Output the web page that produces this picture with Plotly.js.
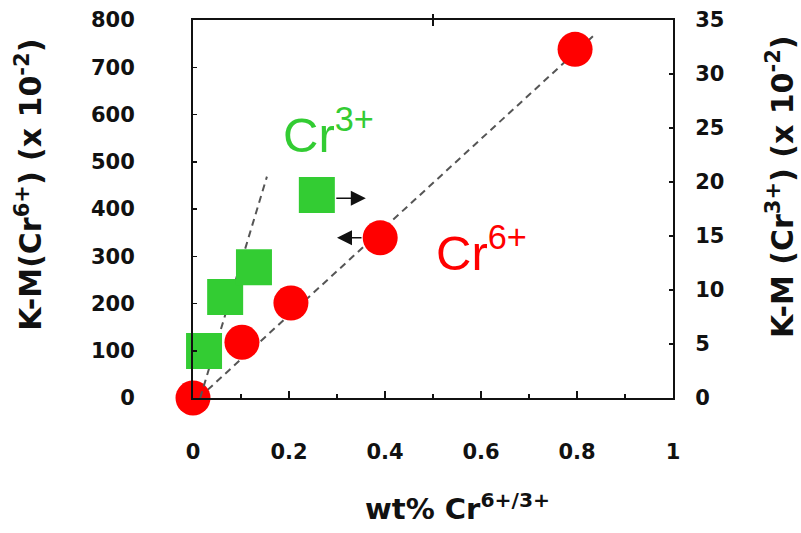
<!DOCTYPE html>
<html>
<head>
<meta charset="utf-8">
<script src="https://cdn.plot.ly/plotly-3.0.1.min.js"></script>
<style>html,body{margin:0;padding:0;background:#fff;}#chart{width:801px;height:533px;}</style>
</head>
<body>
<div id="chart"></div>
<script>
// Cr6+ (left axis, K-M x 10^-2)
var cr6X = [0, 0.102, 0.204, 0.39, 0.796];
var cr6Y = [0, 118, 201, 339, 738];
// Cr3+ (right axis, K-M x 10^-2)
var cr3X = [0.023, 0.067, 0.127, 0.258];
var cr3Y = [4.35, 9.35, 12.1, 18.8];
// dashed guide lines
var fit6X = [0.012, 0.84];
var fit6Y = [0, 772];
var fit3X = [0.015, 0.154];
var fit3Y = [0, 20.5];
var xTicks = [0, 0.2, 0.4, 0.6, 0.8, 1];
var xTickText = ['0', '0.2', '0.4', '0.6', '0.8', '1'];

var red = '#ff0000', green = '#33cc33';
var tickFont = {family: 'DejaVu Sans', size: 21, color: '#111', weight: 'bold'};
var titleFont = {family: 'DejaVu Sans', size: 30, color: '#111', weight: 'bold'};

var traces = [
  {x: fit6X, y: fit6Y, mode: 'lines', yaxis: 'y', line: {color: '#555', width: 2, dash: '7px,5px'}, hoverinfo: 'skip', showlegend: false},
  {x: fit3X, y: fit3Y, mode: 'lines', yaxis: 'y2', line: {color: '#555', width: 2, dash: '7px,5px'}, hoverinfo: 'skip', showlegend: false},
  {x: cr3X, y: cr3Y, mode: 'markers', yaxis: 'y2', name: 'Cr3+', cliponaxis: false,
   marker: {symbol: 'square', size: 36, color: green, line: {width: 0}}, showlegend: false},
  {x: cr6X, y: cr6Y, mode: 'markers', yaxis: 'y', name: 'Cr6+', cliponaxis: false,
   marker: {symbol: 'circle', size: 35, color: red, line: {width: 0}}, showlegend: false}
];

var layout = {
  width: 801, height: 533,
  margin: {l: 193, r: 128, t: 20, b: 135},
  paper_bgcolor: '#fff', plot_bgcolor: '#fff',
  showlegend: false,
  xaxis: {
    range: [0, 1], tickvals: xTicks, ticktext: xTickText,
    showgrid: false, zeroline: false, showline: true, linecolor: '#111', linewidth: 2,
    mirror: true, ticks: 'inside', ticklen: 7, tickwidth: 2, tickcolor: '#111',
    minor: {dtick: 0.1, ticks: 'inside', ticklen: 4, tickwidth: 1.5, tickcolor: '#111'},
    tickfont: tickFont, ticklabelstandoff: 34
  },
  yaxis: {
    range: [0, 800], dtick: 100,
    showgrid: false, zeroline: false, showline: true, linecolor: '#111', linewidth: 2,
    ticks: 'inside', ticklen: 4, tickwidth: 1.5, tickcolor: '#111',
    tickfont: tickFont, ticklabelstandoff: 52
  },
  yaxis2: {
    range: [0, 35], dtick: 5, overlaying: 'y', side: 'right',
    showgrid: false, zeroline: false, showline: true, linecolor: '#111', linewidth: 2,
    ticks: 'inside', ticklen: 4, tickwidth: 1.5, tickcolor: '#111',
    tickfont: tickFont, ticklabelstandoff: 16
  },
  shapes: [
    {type: 'line', xref: 'x', yref: 'paper', ysizemode: 'pixel', yanchor: 1, x0: 0.5, x1: 0.5, y0: -6, y1: 6,
     line: {color: '#111', width: 2}}
  ],
  annotations: [
    {xref: 'paper', yref: 'paper', x: -0.34, y: 0.5635, text: 'K-M(Cr<sup>6+</sup>) (x 10<sup>-2</sup>)',
     textangle: -90, showarrow: false, font: titleFont, xanchor: 'center', yanchor: 'middle'},
    {xref: 'paper', yref: 'paper', x: 1.223, y: 0.558, text: 'K-M (Cr<sup>3+</sup>) (x 10<sup>-2</sup>)',
     textangle: -90, showarrow: false, font: titleFont, xanchor: 'center', yanchor: 'middle'},
    {xref: 'paper', yref: 'paper', x: 0.552, y: -0.345, text: 'wt% Cr<sup>6+/3+</sup>',
     showarrow: false, font: {family: 'DejaVu Sans', size: 29, color: '#111', weight: 'bold'}, xanchor: 'center', yanchor: 'bottom'},
    {xref: 'x', yref: 'y', x: 0.282, y: 566, text: 'Cr<sup>3+</sup>', showarrow: false,
     font: {family: 'Liberation Sans', size: 49, color: green}, xanchor: 'center', yanchor: 'middle'},
    {xref: 'x', yref: 'y', x: 0.602, y: 315, text: 'Cr<sup>6+</sup>', showarrow: false,
     font: {family: 'Liberation Sans', size: 49, color: red}, xanchor: 'center', yanchor: 'middle'},
    {xref: 'x', yref: 'y', x: 0.36, y: 423, ax: -31, ay: 0, text: '', showarrow: true,
     arrowhead: 2, arrowsize: 2, arrowwidth: 1.5, arrowcolor: '#111', standoff: 0},
    {xref: 'x', yref: 'y', x: 0.3, y: 339, ax: 26, ay: 0, text: '', showarrow: true,
     arrowhead: 2, arrowsize: 2, arrowwidth: 1.5, arrowcolor: '#111', standoff: 0}
  ]
};

Plotly.newPlot('chart', traces, layout, {displayModeBar: false, staticPlot: true});
</script>
</body>
</html>
